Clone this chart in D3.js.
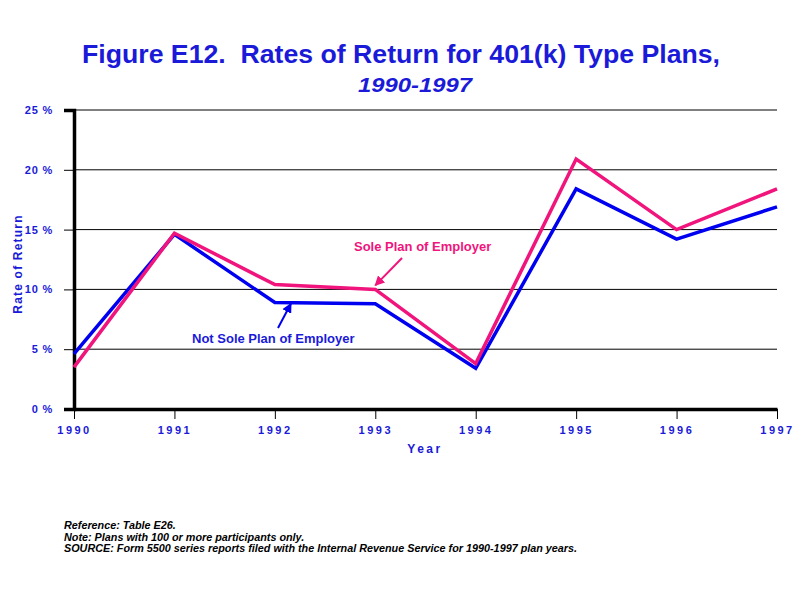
<!DOCTYPE html>
<html>
<head>
<meta charset="utf-8">
<script src="https://cdn.jsdelivr.net/npm/d3@7"></script>
<style>
  body { margin: 0; background: #fff; }
  text { font-family: Arial, "Liberation Sans", sans-serif; }
</style>
</head>
<body>
<div id="chart"></div>
<script>
// data
const years = [1990, 1991, 1992, 1993, 1994, 1995, 1996, 1997];
const notSole = [4.6, 14.6, 8.9, 8.8, 3.4, 18.4, 14.2, 16.9];
const sole = [3.5, 14.7, 10.4, 10.0, 3.8, 20.9, 15.0, 18.4];
const yTicks = [0, 5, 10, 15, 20, 25];
const notes = [
    "Reference: Table E26.",
    "Note: Plans with 100 or more participants only.",
    "SOURCE: Form 5500 series reports filed with the Internal Revenue Service for 1990-1997 plan years."
];

const width = 800, height = 600;
const margin = {left: 74, right: 23, top: 110, bottom: 191};
const blue = "#0000f0", pink = "#f0147c", textBlue = "#1a1ad8";

let svg = d3.select("#chart").append("svg")
    .attr("width", width)
    .attr("height", height);

let x = d3.scalePoint()
    .domain(years)
    .range([margin.left, width - margin.right]);

let y = d3.scaleLinear()
    .domain([0, 25])
    .range([height - margin.bottom, margin.top]);

// title
svg.append("text")
    .attr("x", 82).attr("y", 63)
    .attr("font-size", 25).attr("font-weight", "bold")
    .attr("fill", textBlue)
    .attr("xml:space", "preserve")
    .attr("textLength", 638).attr("lengthAdjust", "spacingAndGlyphs")
    .text("Figure E12.  Rates of Return for 401(k) Type Plans,");

svg.append("text")
    .attr("x", 358).attr("y", 92)
    .attr("font-size", 20).attr("font-weight", "bold").attr("font-style", "italic")
    .attr("fill", textBlue)
    .attr("textLength", 114).attr("lengthAdjust", "spacingAndGlyphs")
    .text("1990-1997");

// gridlines
svg.append("g")
    .selectAll("line")
    .data(yTicks.filter(d => d > 0))
    .enter()
    .append("line")
    .attr("x1", margin.left).attr("x2", width - margin.right)
    .attr("y1", d => y(d)).attr("y2", d => y(d))
    .attr("stroke", "#000").attr("stroke-width", 1);

// y axis
let yAxis = svg.append("g")
    .attr("transform", `translate(${margin.left},0)`)
    .call(d3.axisLeft(y).tickValues(yTicks).tickSize(10).tickFormat(d => d + " %"));
yAxis.select(".domain").attr("stroke-width", 3.5);
yAxis.selectAll(".tick line").attr("stroke-width", 1);
yAxis.selectAll(".tick text")
    .attr("x", -21)
    .attr("font-size", 11).attr("font-weight", "bold")
    .attr("letter-spacing", 0.8)
    .attr("fill", textBlue);

// x axis
let xAxis = svg.append("g")
    .attr("transform", `translate(0,${height - margin.bottom})`)
    .call(d3.axisBottom(x).tickSize(10).tickSizeOuter(0));
xAxis.select(".domain").attr("stroke-width", 3.5);
xAxis.selectAll(".tick line").attr("stroke-width", 1);
xAxis.selectAll(".tick text")
    .attr("y", 17)
    .attr("font-size", 11).attr("font-weight", "bold")
    .attr("letter-spacing", 2.5)
    .attr("fill", textBlue);

// axis titles
svg.append("text")
    .attr("transform", "translate(22,264) rotate(-90)")
    .attr("text-anchor", "middle")
    .attr("font-size", 12).attr("font-weight", "bold")
    .attr("letter-spacing", 1.2)
    .attr("fill", textBlue)
    .text("Rate of Return");

svg.append("text")
    .attr("x", 425).attr("y", 453)
    .attr("text-anchor", "middle")
    .attr("font-size", 12).attr("font-weight", "bold")
    .attr("letter-spacing", 2.5)
    .attr("fill", textBlue)
    .text("Year");

// lines
let line = d3.line()
    .x((d, i) => x(years[i]))
    .y(d => y(d));

svg.append("path")
    .datum(notSole)
    .attr("d", line)
    .attr("fill", "none").attr("stroke", blue).attr("stroke-width", 3.5);

svg.append("path")
    .datum(sole)
    .attr("d", line)
    .attr("fill", "none").attr("stroke", pink).attr("stroke-width", 3.5);

// annotations with arrows
let defs = svg.append("defs");
[["arrowPink", pink], ["arrowBlue", blue]].forEach(([id, c]) => {
    defs.append("marker")
        .attr("id", id)
        .attr("viewBox", "0 0 10 10")
        .attr("refX", 9).attr("refY", 5)
        .attr("markerWidth", 5).attr("markerHeight", 5)
        .attr("orient", "auto")
        .append("path")
        .attr("d", "M0,0 L10,5 L0,10 Z")
        .attr("fill", c);
});

svg.append("text")
    .attr("x", 354).attr("y", 251)
    .attr("font-size", 13).attr("font-weight", "bold")
    .attr("fill", pink)
    .text("Sole Plan of Employer");

svg.append("line")
    .attr("x1", 402).attr("y1", 258)
    .attr("x2", x(1993)).attr("y2", y(sole[3]) - 4)
    .attr("stroke", pink).attr("stroke-width", 2)
    .attr("marker-end", "url(#arrowPink)");

svg.append("text")
    .attr("x", 192).attr("y", 343)
    .attr("font-size", 13).attr("font-weight", "bold")
    .attr("fill", textBlue)
    .text("Not Sole Plan of Employer");

svg.append("line")
    .attr("x1", 278).attr("y1", 328)
    .attr("x2", 291).attr("y2", y(notSole[2]) + 1)
    .attr("stroke", blue).attr("stroke-width", 2)
    .attr("marker-end", "url(#arrowBlue)");

// footnotes
svg.append("g")
    .selectAll("text")
    .data(notes)
    .enter()
    .append("text")
    .attr("x", 64)
    .attr("y", (d, i) => 529 + i * 11.5)
    .attr("font-size", 10.8).attr("font-weight", "bold").attr("font-style", "italic")
    .attr("fill", "#000")
    .text(d => d);
</script>
</body>
</html>
